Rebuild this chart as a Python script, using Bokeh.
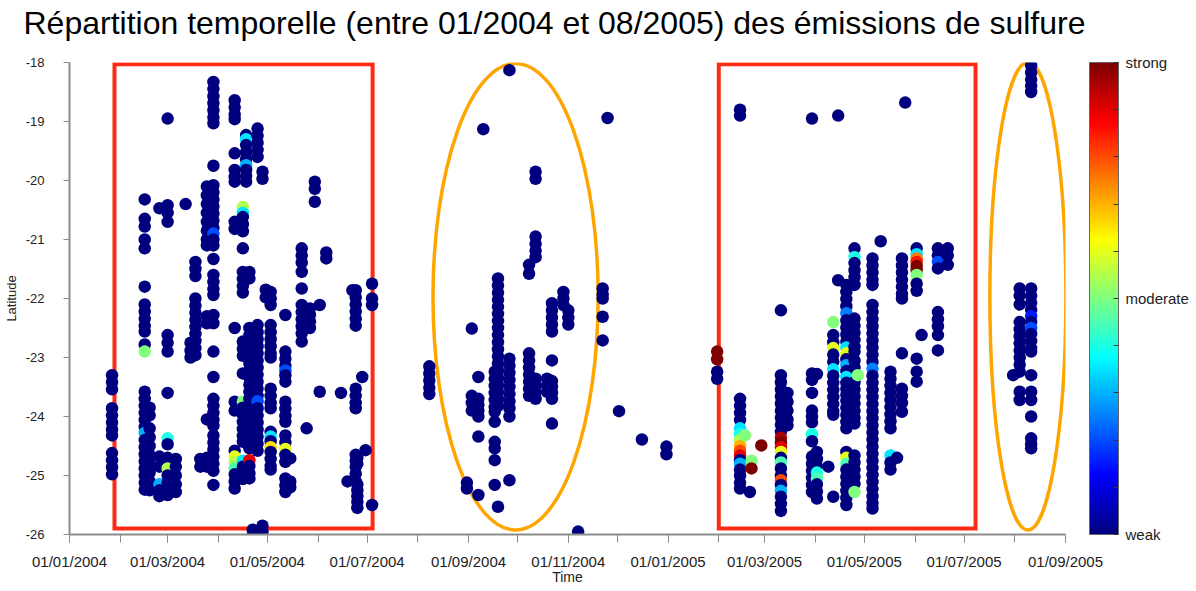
import numpy as np
import pandas as pd
from bokeh.plotting import figure
from bokeh.models import (Range1d, FixedTicker, DatetimeTickFormatter, ColorBar,
                          LinearColorMapper, ColumnDataSource, LinearAxis)
from bokeh.transform import linear_cmap
from bokeh.embed import file_html
from bokeh.resources import INLINE

# ---------------- data ----------------
TITLE = "Répartition temporelle (entre 01/2004 et 08/2005) des émissions de sulfure"

# detection dates (one entry per vertical stack of detections)
col_dates = [
    "2004-01-27", "2004-02-16", "2004-02-19", "2004-02-25", "2004-03-01", "2004-03-06",
    "2004-03-12", "2004-03-15", "2004-03-18", "2004-03-21", "2004-03-25", "2004-03-29",
    "2004-04-11", "2004-04-16", "2004-04-18", "2004-04-20", "2004-04-25", "2004-04-28",
    "2004-04-22", "2004-04-30", "2004-05-03", "2004-05-12", "2004-05-15", "2004-05-22",
    "2004-05-25", "2004-05-27", "2004-05-30", "2004-06-02", "2004-06-06", "2004-06-15",
    "2004-06-19", "2004-06-22", "2004-06-24", "2004-06-25", "2004-06-28", "2004-06-30",
    "2004-07-04",
    "2004-08-08", "2004-08-31", "2004-09-03", "2004-09-07", "2004-09-10", "2004-09-17",
    "2004-09-19", "2004-09-26", "2004-10-08", "2004-10-12", "2004-10-19", "2004-10-22",
    "2004-10-29", "2004-11-01", "2004-11-07", "2004-11-22", "2004-11-25", "2004-12-02",
    "2004-12-16", "2004-12-31",
    "2005-01-31", "2005-02-14", "2005-02-17", "2005-02-20", "2005-02-21", "2005-02-27",
    "2005-03-11", "2005-03-15", "2005-03-30", "2005-04-02", "2005-04-09", "2005-04-12",
    "2005-04-15", "2005-04-20", "2005-04-25", "2005-04-27", "2005-05-06", "2005-05-11",
    "2005-05-17", "2005-05-21", "2005-05-24", "2005-05-26", "2005-06-02", "2005-06-05",
    "2005-06-15", "2005-06-21",
    "2005-07-31", "2005-08-04", "2005-08-11",
]

# latitudes of each stack; (lat, level) marks a detection stronger than "weak"
col_lats = [
    [-23.3, -23.42, -23.54, -23.86, -23.98, -24.1, -24.22, -24.32, -24.62, -24.74, -24.86, -24.98],
    [-20.32, -20.65, -20.78, -21.0, -21.15, -21.8, -22.1, -22.22, -22.34, -22.46, -22.56, -22.78,
     (-22.9, 0.5), -23.58, -23.7, -23.82, -23.94, -24.06, -24.18, (-24.28, 0.3), -24.4, -24.52,
     -24.64, -24.76, -24.88, -25.0, -25.12, -25.24],
    [-23.85, -23.98, -24.2, -24.35, -24.5, -24.65, -24.8, -24.95, -25.1, -25.25],
    [-20.47, -24.68, -24.85, (-25.15, 0.3), -25.25, -25.35],
    [-18.95, -20.42, -20.55, -20.7, -22.62, -22.75, -22.9, -23.6, (-24.37, 0.4), -24.47, -24.7,
     -24.8, (-24.88, 0.55), -25.0, -25.12, -25.22, -25.33],
    [-24.72, -24.85, -25.0, -25.15, -25.28],
    [-20.4],
    [-22.75, -22.88, -23.0],
    [-21.38, -21.5, -21.62, -22.0, -22.12, -22.24, -22.36, -22.48, -22.6, -22.72, -22.84, -22.96],
    [-24.72, -24.85],
    [-20.1, -20.25, -20.4, -20.55, -20.7, -20.85, -21.0, -21.1, -22.3, -22.42, -24.05, -24.7, -24.85],
    [-18.33, -18.45, -18.57, -18.69, -18.81, -18.93, -19.03, -19.75, -20.08, -20.2, -20.32, -20.44,
     -20.56, -20.68, -20.8, (-20.9, 0.2), -21.0, -21.1, -21.33, -21.6, -21.72, -21.84, -21.94,
     -22.28, -22.42, -22.9, -23.33, -23.7, -23.82, -23.94, -24.06, -24.16, -24.32, -24.44, -24.56,
     -24.68, -24.8, -24.92, -25.16],
    [-18.64, -18.76, -18.88, -18.96, -19.54, -19.82, -19.94, -20.02, -20.7, -20.82, -22.5, -23.75,
     -23.9, -24.58, (-24.68, 0.6), (-24.78, 0.55), (-24.88, 0.45), -24.98, -25.1, -25.22],
    [(-20.45, 0.55), (-20.55, 0.35), -20.62, -20.74, -20.86, -21.15, -21.55, -21.67, -21.79, -21.9,
     -22.73, -22.85, -22.97, -23.27, (-23.75, 0.5), -23.85, -23.97, -24.09, -24.21, -24.33, -24.43,
     (-24.75, 0.35), -24.85, -24.96, -25.06],
    [-19.23, (-19.3, 0.35), -19.4, -19.52, -19.64, (-19.74, 0.3), -19.82, -19.92, -20.02],
    [-21.55, -21.66, -22.5, -22.62, -22.74, -22.86, -22.98, -23.1, -23.22, -23.34, -23.46, -23.58,
     -23.7, -23.82, -23.94, -24.06, -24.18, -24.3, -24.42, -24.54, (-24.74, 0.9), -24.84, -24.96, -25.05],
    [-19.12, -19.24, -19.36, -19.48, -19.6, -22.45, -22.57, -22.69, -22.81, -22.93, -23.05, -23.17,
     -23.29, -23.41, -23.53, -23.65, (-23.74, 0.2), -23.86, -23.98, -24.1, -24.22, -24.34, -24.46, -24.58],
    [-19.85, -19.97, -25.85, -25.95],
    [-25.92, -26.02],
    [-21.85, -21.98],
    [-21.89, -22.0, -22.11, -22.45, -22.57, -22.69, -22.81, -22.93, -23.0, -23.53, -23.65, -23.77,
     -23.86, -24.26, (-24.34, 0.35), -24.42, (-24.52, 0.65), -24.6, -24.72, -24.84, -24.9],
    [-22.28, -22.9, -23.02, -23.14, (-23.22, 0.2), -23.3, -23.41, -23.75, -23.87, -23.99, -24.09,
     -24.32, -24.44, (-24.55, 0.6), -24.65, -24.77, -25.05, -25.17, -25.28],
    [-24.71, -25.1, -25.2],
    [-21.15, -21.27, -21.39, -21.55, -21.83, -22.11, -22.23, -22.35, -22.47, -22.59, -22.73],
    [-24.2],
    [-22.17, -22.28, -22.39, -22.5],
    [-20.02, -20.14, -20.36],
    [-22.11, -23.58],
    [-21.22, -21.32],
    [-23.6],
    [-25.1],
    [-21.86],
    [-21.86, -21.98, -22.1, -22.22, -22.34, -22.46, -23.53, -23.65, -23.77, -23.86, -24.65, -24.75,
     -24.85, -24.97, -25.1],
    [-24.7, -24.8, -25.15, -25.25, -25.35, -25.45, -25.55],
    [-23.33],
    [-24.57],
    [-21.75, -22.0, -22.11, -25.5],
    # Aug - Dec 2004
    [-23.15, -23.27, -23.39, -23.51, -23.62],
    [-25.12, -25.22],
    [-22.51, -23.65, -23.77, -23.9],
    [-23.33, -23.7, -23.8, -23.9, -24.0, -24.34, -25.33],
    [-19.13],
    [-23.24, -23.36, -23.48, -23.6, -23.72, -23.84, -23.92, -24.09, -24.43, -24.54, -24.74, -25.16],
    [-21.66, -21.78, -21.9, -22.02, -22.14, -22.26, -22.38, -22.5, -22.62, -22.74, -22.86, -22.98,
     -23.1, -23.22, -23.34, -23.46, -23.58, -23.7, -23.82, -25.53],
    [-18.13, -23.02, -23.14, -23.26, -23.38, -23.5, -23.62, -23.74, -23.86, -24.0, -25.08],
    [-21.43, -21.58, -22.93, -23.05, -23.17, -23.29, -23.41, -23.53, -23.65],
    [-19.85, -19.97, -20.95, -21.07, -21.19, -21.3, -23.36, -23.48, -23.6, -23.7],
    [-23.36, -23.47, -23.58],
    [-22.08, -22.2, -22.32, -22.44, -22.56, -23.05, -23.4, -23.5, -23.6, -23.7, -24.12],
    [-21.89, -22.0, -22.11],
    [-22.2, -22.32, -22.44],
    [-25.95],
    [-21.83, -21.93, -22.0, -22.31, -22.71],
    [-18.94],
    [-23.91],
    [-24.39],
    [-24.51, -24.64],
    # Jan - Jun 2005
    [(-22.9, 1.0), (-23.03, 1.0), -23.24, -23.36],
    [-18.8, -18.9, -23.7, -23.82, -23.94, -24.06, (-24.2, 0.35), (-24.3, 0.4), (-24.4, 0.55),
     (-24.5, 0.7), (-24.58, 0.8), (-24.66, 0.9), -24.74, (-24.8, 0.3), -24.9, -25.0, -25.12, -25.22],
    [(-24.32, 0.5)],
    [-25.28],
    [(-24.75, 0.5), (-24.88, 1.0)],
    [(-24.49, 1.0)],
    [-22.2, -23.3, -23.42, -23.54, -23.66, -23.78, -23.9, -24.02, -24.14, -24.26, (-24.36, 0.95),
     (-24.44, 1.0), (-24.52, 0.9), (-24.6, 0.6), -24.7, (-24.78, 0.45), -24.88, -25.0, (-25.08, 0.8),
     -25.16, (-25.26, 0.3), -25.36, -25.48, -25.6],
    [-23.6, -23.75, -23.9, -24.05, -24.15],
    [-18.95, -23.27, -23.38, -23.6, -23.9, -24.0, -24.1, (-24.3, 0.4), -24.42, -24.68, -24.8, -24.92,
     -25.04, -25.16, -25.28],
    [-23.28, -24.6, -24.72, -24.84, (-24.95, 0.4), (-25.05, 0.45), -25.15, -25.27, -25.39],
    [-24.85],
    [(-22.4, 0.5), -22.62, -22.74, (-22.84, 0.6), -22.95, -23.07, (-23.2, 0.35), -23.31, -23.43,
     -23.55, -23.67, -23.79, -23.91, -23.97, -25.36],
    [-18.9, -21.69],
    [-21.77, -21.89, -22.01, -22.13, (-22.25, 0.25), -22.37, -22.49, -22.61, -22.73, (-22.83, 0.35),
     (-22.93, 0.6), -23.03, (-23.13, 0.3), -23.23, (-23.33, 0.35), -23.43, -23.53, -23.63, -23.73,
     -23.85, -23.97, -24.09, -24.2, -24.6, (-24.7, 0.6), (-24.8, 0.45), -24.9, -25.02, -25.14,
     -25.26, -25.38, -25.5],
    [-21.15, (-21.3, 0.4), -21.4, -21.52, -21.64, -21.77, -22.34, -22.46, -22.58, -22.7, -22.82,
     -22.9, -23.05, -23.17, -23.42, -23.54, -23.66, -23.78, -23.9, -24.02, -24.12, -24.66, -24.78,
     -24.9, -25.02, -25.14, (-25.28, 0.5)],
    [(-23.3, 0.5)],
    [-21.32, -21.44, -21.56, -21.68, -21.77, -22.11, -22.23, -22.35, -22.47, -22.59, -22.71, -22.83,
     -22.95, -23.07, (-23.19, 0.25), -23.31, -23.43, -23.55, -23.67, -23.79, -23.91, -24.03, -24.15,
     -24.27, -24.39, -24.51, -24.63, -24.75, -24.87, -24.99, -25.11, -25.23, -25.35, -25.47, -25.56],
    [-21.03],
    [-23.24, -23.36, -23.48, -23.6, -23.72, -23.84, -23.96, -24.08, -24.2, (-24.66, 0.35), -24.78, -24.9],
    [-24.7],
    [-21.32, -21.44, -21.56, -21.68, -21.8, -21.92, -22.0, -22.93, -23.53, -23.65, -23.77, -23.92],
    [-18.68],
    [-21.15, (-21.25, 0.35), (-21.32, 0.75), (-21.38, 0.85), (-21.45, 1.0), (-21.52, 1.0),
     (-21.6, 0.5), -21.75, -21.87, -23.02, -23.24, -23.41],
    [-22.62],
    [-21.15, -21.27, (-21.38, 0.2), -21.49, -22.23, -22.35, -22.47, -22.62, -22.88],
    [-21.15, -21.27, -21.43],
    # Aug 2005
    [-23.3],
    [-21.83, -21.95, -22.1, -22.4, -22.52, -22.64, -22.76, -22.88, -23.0, -23.12, -23.24, -23.58, -23.72],
    [-18.05, -18.17, -18.29, -18.4, -18.5, -21.83, -21.95, -22.07, -22.19, (-22.3, 0.15), -22.4,
     (-22.5, 0.2), -22.6, -22.72, -22.84, -22.9, -23.3, -23.58, -23.72, -24.0, -24.37, -24.47, -24.54],
]

# highlighted periods (red boxes) and isolated episodes (orange ellipses)
box_start = ["2004-01-28 12:00", "2005-02-01 00:00"]
box_end = ["2004-07-04 08:00", "2005-07-08 00:00"]
box_top = [-18.03, -18.03]
box_bottom = [-25.9, -25.9]

ell_center = ["2004-09-29 18:00", "2005-08-09 00:00"]
ell_lat = [-21.97, -21.96]
ell_width_days = [101.0, 46.5]
ell_height = [7.91, 7.93]

month_ticks = pd.date_range("2004-01-01", "2005-09-01", freq="MS")
label_ticks = month_ticks[::2]
y_ticks = [-26, -25, -24, -23, -22, -21, -20, -19, -18]
y_labels = ["-26", "-25", "-24", "-23", "-22", "-21", "-20", "-19", "-18"]

cbar_ticks = [0.0, 0.1, 0.2, 0.3, 0.4, 0.5, 0.6, 0.7, 0.8, 0.9, 1.0]
cbar_labels = ["weak", "", "", "", "", "moderate", "", "", "", "", "strong"]

# ---------------- build ----------------
def jet(n=256):
    out = []
    for t in np.linspace(0, 1, n):
        r = np.clip(1.5 - abs(4 * t - 3), 0, 1)
        g = np.clip(1.5 - abs(4 * t - 2), 0, 1)
        b = np.clip(1.5 - abs(4 * t - 1), 0, 1)
        out.append("#%02x%02x%02x" % (int(r * 255), int(g * 255), int(b * 255)))
    return out

JET = jet()

xs, ys, lv = [], [], []
for d, lats in zip(col_dates, col_lats):
    t = pd.Timestamp(d)
    for v in lats:
        if isinstance(v, tuple):
            lat, level = v
        else:
            lat, level = v, 0.0
        xs.append(t)
        ys.append(lat)
        lv.append(level)
src = ColumnDataSource(dict(x=xs, y=ys, level=lv))

FONT = "Liberation Sans"

p = figure(frame_width=996, frame_height=472, x_axis_type="datetime", output_backend="svg",
           toolbar_location=None,
           x_range=Range1d(pd.Timestamp("2004-01-01"), pd.Timestamp("2005-09-01")),
           y_range=Range1d(-26, -18),
           min_border_left=0, min_border_right=0, min_border_top=0, min_border_bottom=0)

p.title.text = TITLE
p.title.text_font = FONT
p.title.text_font_size = "32px"
p.title.text_font_style = "normal"
p.title.text_color = "#000000"
p.title.offset = -46
p.title.standoff = 4

p.grid.visible = False
p.outline_line_color = None
p.background_fill_color = "white"
p.border_fill_color = "white"

# annotations
bsrc = ColumnDataSource(dict(left=[pd.Timestamp(s) for s in box_start],
                             right=[pd.Timestamp(s) for s in box_end],
                             top=box_top, bottom=box_bottom))
p.quad(left="left", right="right", top="top", bottom="bottom", source=bsrc,
       fill_color=None, line_color="#ff2a14", line_width=4, line_join="miter")

esrc = ColumnDataSource(dict(x=[pd.Timestamp(s) for s in ell_center], y=ell_lat,
                             w=[d * 86400000.0 for d in ell_width_days], h=ell_height))
p.ellipse(x="x", y="y", width="w", height="h", source=esrc,
          fill_color=None, line_color="#ffa500", line_width=3.5)

p.scatter("x", "y", source=src, size=12.5,
          fill_color=linear_cmap("level", JET, 0, 1), line_color=None)

# axes
xax = p.below[0]
yax = p.left[0]
ms = lambda ts: [t.value / 1e6 for t in ts]
xax.ticker = FixedTicker(ticks=ms(label_ticks), minor_ticks=ms(month_ticks))
xax.formatter = DatetimeTickFormatter(milliseconds="%d/%m/%Y", seconds="%d/%m/%Y",
                                      minsec="%d/%m/%Y", minutes="%d/%m/%Y",
                                      hourmin="%d/%m/%Y", hours="%d/%m/%Y",
                                      days="%d/%m/%Y", months="%d/%m/%Y", years="%d/%m/%Y")
xax.axis_label = "Time"
yax.axis_label = "Latitude"
yax.ticker = FixedTicker(ticks=y_ticks)
yax.major_label_overrides = dict(zip(y_ticks, y_labels))

for ax in (xax, yax):
    ax.axis_line_color = "#8c8c8c"
    ax.axis_line_width = 2
    ax.major_tick_line_color = "#8c8c8c"
    ax.minor_tick_line_color = "#8c8c8c"
    ax.major_tick_in = 0
    ax.minor_tick_in = 0
    ax.major_label_text_font = FONT
    ax.major_label_text_color = "#222222"
    ax.axis_label_text_font = FONT
    ax.axis_label_text_font_style = "normal"
    ax.axis_label_text_color = "#222222"

xax.major_tick_out = 8
xax.minor_tick_out = 8
xax.major_label_text_font_size = "15px"
xax.major_label_standoff = 10
xax.axis_label_text_font_size = "14px"
xax.axis_label_standoff = -4

yax.major_tick_out = 6
yax.minor_tick_line_color = None
yax.major_label_text_font_size = "13px"
yax.major_label_standoff = 19
yax.axis_label_text_font_size = "13px"
yax.axis_label_standoff = 4


def spacer(label_px, standoff):
    return LinearAxis(ticker=FixedTicker(ticks=[]), axis_line_color=None,
                      major_tick_line_color=None, minor_tick_line_color=None,
                      major_tick_out=0, major_tick_in=0, major_label_standoff=0,
                      axis_label=" ", axis_label_text_font_size=label_px,
                      axis_label_standoff=standoff)


# gap between title and frame
p.add_layout(spacer("14px", 1), "above")
# gap between frame and colour bar
p.add_layout(spacer("14px", 5), "right")

# colour bar
mapper = LinearColorMapper(palette=JET, low=0, high=1)
cb = ColorBar(color_mapper=mapper, width=29, padding=0,
              ticker=FixedTicker(ticks=cbar_ticks),
              major_label_overrides=dict(zip(cbar_ticks, cbar_labels)),
              major_tick_line_color="#333333", major_tick_in=5, major_tick_out=0,
              label_standoff=7, major_label_text_font=FONT,
              major_label_text_font_size="15px", major_label_text_color="#222222",
              bar_line_color="#666666", border_line_color=None, background_fill_color=None)
p.add_layout(cb, "right")

open("out.html", "w").write(file_html(p, INLINE))
